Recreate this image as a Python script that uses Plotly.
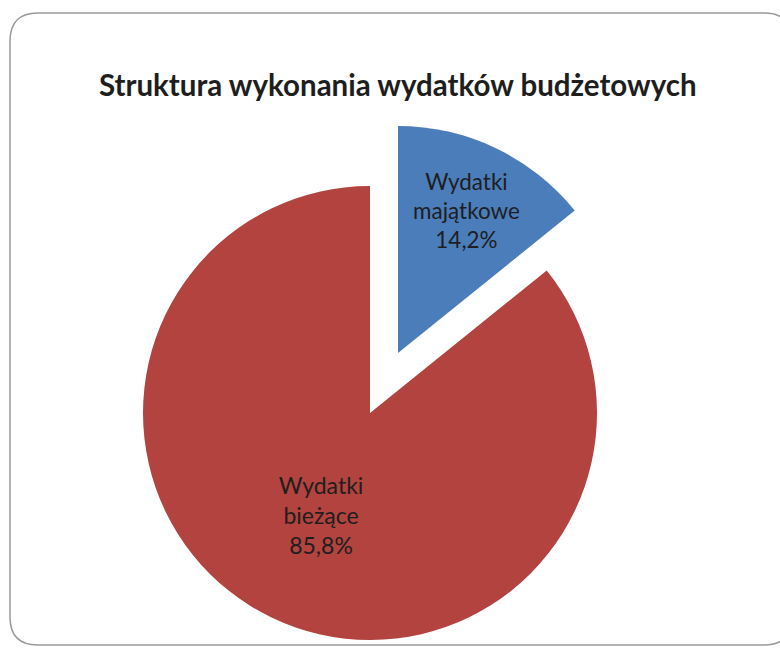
import plotly.graph_objects as go

# dane z wykresu
kategorie = ["Wydatki majątkowe", "Wydatki bieżące"]
etykiety = ["Wydatki<br>majątkowe", "Wydatki<br>bieżące"]
udzial = [14.2, 85.8]
kolory = ["#4A7DBA", "#B2433F"]

W, H = 780, 650


def px_x(v):
    return v / W


def px_y(v):
    return 1 - v / H


def dom(cx, cy, r):
    return dict(x=[px_x(cx - r), px_x(cx + r)], y=[px_y(cy + r), px_y(cy - r)])


R = 227
BRAK = "rgba(0,0,0,0)"
font_etyk = dict(family="Lato", size=23, color="#1e1e1e")

fig = go.Figure()

# kawalek czerwony (bez wysuniecia)
fig.add_trace(go.Pie(
    labels=kategorie, values=udzial, text=etykiety, sort=False,
    direction="clockwise", rotation=0,
    marker=dict(colors=[BRAK, kolory[1]], line=dict(width=0)),
    texttemplate=["", "%{text}<br>%{percent:.1%}"],
    textposition="inside", insidetextorientation="horizontal",
    textfont=font_etyk,
    domain=dom(370, 413, R), showlegend=False, hoverinfo="label+percent",
))

# kawalek niebieski (wysuniety)
fig.add_trace(go.Pie(
    labels=kategorie, values=udzial, text=etykiety, sort=False,
    direction="clockwise", rotation=0,
    marker=dict(colors=[kolory[0], BRAK], line=dict(width=0)),
    texttemplate=["%{text}<br>%{percent:.1%}", ""],
    textposition="inside", insidetextorientation="horizontal",
    textfont=font_etyk,
    domain=dom(398, 353, R), showlegend=False, hoverinfo="label+percent",
))

# zaokraglona ramka (prawa krawedz poza obrazem)
x0, x1, y0, y1, rr = 10, 792, 13, 645, 28
ramka = (
    f"M {px_x(x0)} {px_y(y0 + rr)} "
    f"Q {px_x(x0)} {px_y(y0)} {px_x(x0 + rr)} {px_y(y0)} "
    f"L {px_x(x1 - rr)} {px_y(y0)} "
    f"Q {px_x(x1)} {px_y(y0)} {px_x(x1)} {px_y(y0 + rr)} "
    f"L {px_x(x1)} {px_y(y1 - rr)} "
    f"Q {px_x(x1)} {px_y(y1)} {px_x(x1 - rr)} {px_y(y1)} "
    f"L {px_x(x0 + rr)} {px_y(y1)} "
    f"Q {px_x(x0)} {px_y(y1)} {px_x(x0)} {px_y(y1 - rr)} Z"
)

fig.update_layout(
    width=W, height=H,
    margin=dict(l=0, r=0, t=0, b=0),
    paper_bgcolor="white",
    separators=", ",
    title=dict(
        text="<b>Struktura wykonania wydatków budżetowych</b>",
        x=0.51, xanchor="center", y=px_y(86), yanchor="middle",
        font=dict(family="Lato", size=29.5, color="#1e1e1e"),
    ),
    shapes=[dict(type="path", xref="paper", yref="paper", path=ramka,
                 line=dict(color="#9a9a9a", width=1.5), layer="below")],
)

fig.write_html("out.html", config={"displayModeBar": False},
               post_script="document.body.style.margin='0';")
